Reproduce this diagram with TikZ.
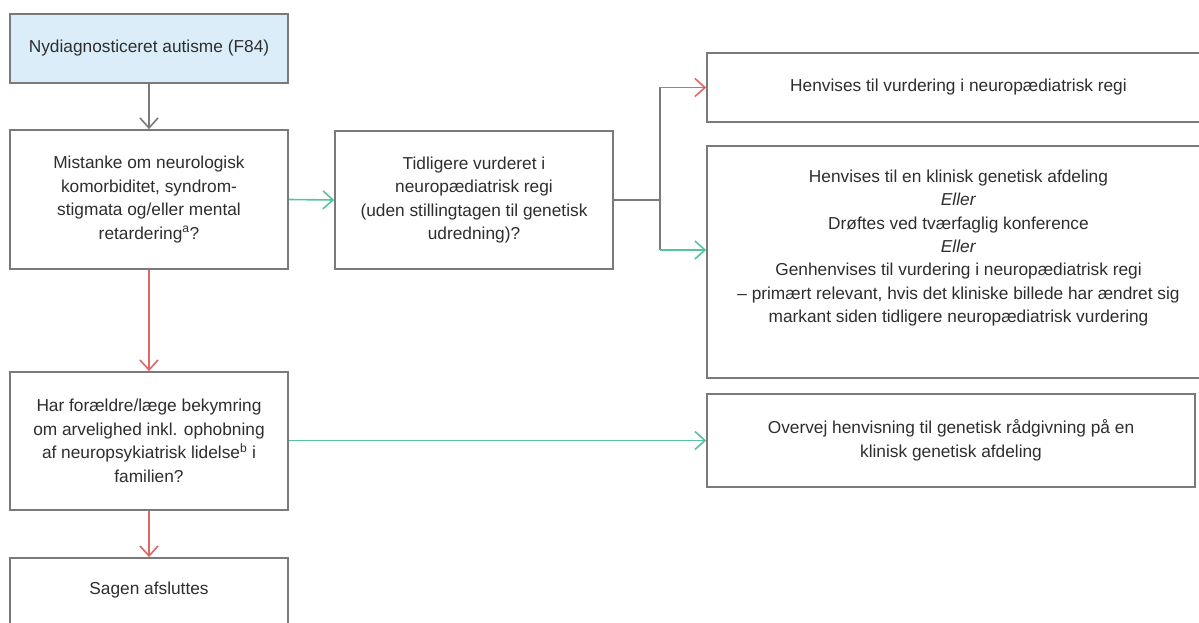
\documentclass[tikz,border=0pt]{standalone}
\usepackage{fontspec}
\setmainfont{Liberation Sans}
\usetikzlibrary{arrows.meta}
\definecolor{boxgray}{HTML}{7A7A7A}
\definecolor{txtgray}{HTML}{2E2E2E}
\definecolor{lightblue}{HTML}{DAEDF9}
\definecolor{redline}{HTML}{E06666}
\definecolor{greenline}{HTML}{55C39D}
\tikzset{
  flowbox/.style={draw=boxgray, line width=1.7pt, fill=white, text=txtgray, align=center,
    font=\fontsize{17.3pt}{23.5pt}\selectfont, inner sep=0pt},
  conn/.style={line width=1.6pt},
  tip/.style={-{Straight Barb[length=10pt,width=18pt,line width=1.6pt]}},
}
\begin{document}
\begin{tikzpicture}[x=1pt,y=-1pt]
\useasboundingbox (0,0) rectangle (1199,623);
\clip (0,0) rectangle (1199,623);
\node[flowbox, fill=lightblue, minimum width=278pt, minimum height=69pt] (A) at (149,48.5)
  {Nydiagnosticeret autisme (F84)};
\node[flowbox, minimum width=278pt, minimum height=139pt] (B) at (149,199.5)
  {Mistanke om neurologisk\\komorbiditet, syndrom-\\stigmata og/eller mental\\retardering\textsuperscript{a}?};
\node[flowbox, minimum width=278pt, minimum height=138pt] (C) at (474,200)
  {Tidligere vurderet i\\neuropædiatrisk regi\\(uden stillingtagen til genetisk\\udredning)?};
\node[flowbox, minimum width=503pt, minimum height=69pt] (D) at (958.5,87.5)
  {Henvises til vurdering i neuropædiatrisk regi};
\node[flowbox, minimum width=503pt, minimum height=232pt] (E) at (958.5,262) {};
\node[text=txtgray, align=center, font=\fontsize{17.3pt}{23.4pt}\selectfont, inner sep=0pt] (Etext) at (958.5,248)
  {Henvises til en klinisk genetisk afdeling\\\textit{Eller}\\Drøftes ved tværfaglig konference\\\textit{Eller}\\Genhenvises til vurdering i neuropædiatrisk regi\\– primært relevant, hvis det kliniske billede har ændret sig\\markant siden tidligere neuropædiatrisk vurdering};
\node[flowbox, minimum width=278pt, minimum height=138pt] (F) at (149,441)
  {Har forældre/læge bekymring\\om arvelighed inkl. ophobning\\af neuropsykiatrisk lidelse\textsuperscript{b} i\\familien?};
\node[flowbox, minimum width=278pt, minimum height=69pt] (G) at (149,592.5) {};
\node[text=txtgray, font=\fontsize{17.3pt}{23.5pt}\selectfont, inner sep=0pt] (Gtext) at (149,590) {Sagen afsluttes};
\node[flowbox, minimum width=488pt, minimum height=93pt] (H) at (951,440.5)
  {Overvej henvisning til genetisk rådgivning på en\\klinisk genetisk afdeling};

\coordinate (J) at (660,200);
\coordinate (Jtop) at (J |- D.west);
\coordinate (Jbot) at (660,250);
\coordinate (Ein) at (E.west |- Jbot);

\draw[conn, boxgray, tip] (A.south) -- (B.north);
\draw[conn, greenline, tip] (B.east) -- (C.west);
\draw[conn, boxgray] (C.east) -- (J);
\draw[conn, boxgray] (Jtop) -- (Jbot);
\draw[conn, redline, tip] (Jtop) -- (D.west);
\draw[conn, greenline, tip] (Jbot) -- (Ein);
\draw[conn, redline, tip] (B.south) -- (F.north);
\draw[conn, greenline, tip] (F.east |- H.west) -- (H.west);
\draw[conn, redline, tip] (F.south) -- (G.north);
\end{tikzpicture}
\end{document}
